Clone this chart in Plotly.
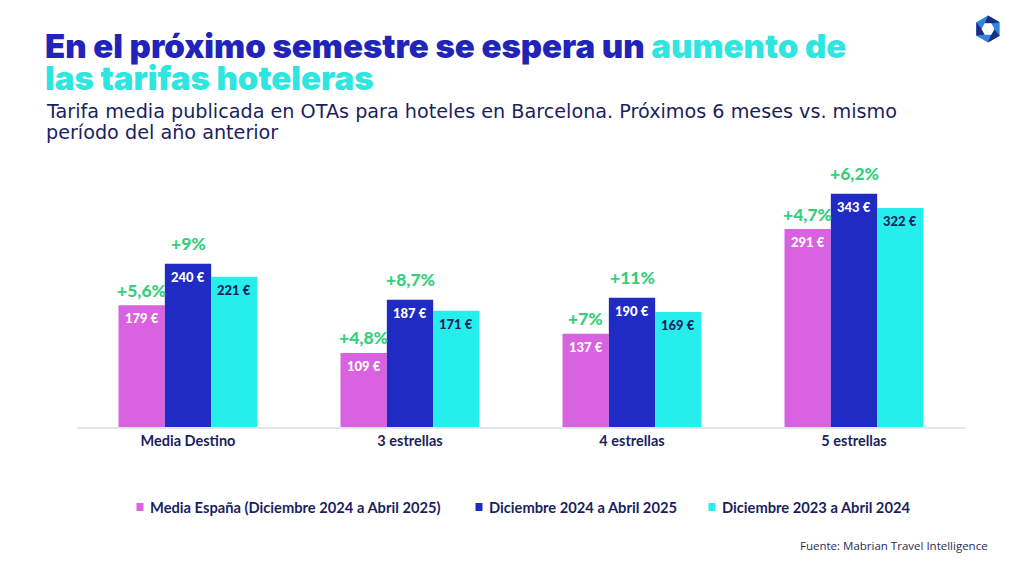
import plotly.graph_objects as go
import math

categories = ["Media Destino", "3 estrellas", "4 estrellas", "5 estrellas"]
media_espana = [179, 109, 137, 291]
dic_2024_2025 = [240, 187, 190, 343]
dic_2023_2024 = [221, 171, 169, 322]
pct_espana = ["+5,6%", "+4,8%", "+7%", "+4,7%"]
pct_2024_2025 = ["+9%", "+8,7%", "+11%", "+6,2%"]
series_names = ["Media España (Diciembre 2024 a Abril 2025)",
                "Diciembre 2024 a Abril 2025",
                "Diciembre 2023 a Abril 2024"]

PINK = "#d962e0"
BLUE = "#1f2bc3"
CYAN = "#25eeec"
NAVY = "#1b1f5e"
GREEN = "#35cf7e"
TITLE_BLUE = "#2124b8"
TITLE_CYAN = "#2ee6df"

W, H = 1024, 576
L, R, T, B = 77, 59, 155, 149
PW, PH = W - L - R, H - T - B


def px(x):
    return (x - L) / PW


def py(y):
    return (H - B - y) / PH


fig = go.Figure()
series = [media_espana, dic_2024_2025, dic_2023_2024]
colors = [PINK, BLUE, CYAN]
for name, vals, col in zip(series_names, series, colors):
    fig.add_trace(go.Bar(x=categories, y=vals, name=name, marker_color=col,
                         marker_line_width=0, showlegend=False, hoverinfo="skip"))

bar_px = 222 * (1 - 0.374) / 3
annotations = []
label_colors = ["white", "white", NAVY]
for si, vals in enumerate(series):
    for c, v in zip(categories, vals):
        annotations.append(dict(x=c, y=v, xref="x", yref="y", text=f"{v} €",
                                showarrow=False, xshift=(si - 1) * bar_px, yshift=-13,
                                yanchor="middle",
                                font=dict(family="Lato", size=13, color=label_colors[si], weight=900)))
for si, (vals, pcts, ys) in enumerate([(media_espana, pct_espana, 15), (dic_2024_2025, pct_2024_2025, 20)]):
    for c, v, p in zip(categories, vals, pcts):
        annotations.append(dict(x=c, y=v, xref="x", yref="y", text=p,
                                showarrow=False, xshift=(si - 1) * bar_px, yshift=ys,
                                yanchor="middle",
                                font=dict(family="Lato", size=17.5, color=GREEN, weight=900)))

# Title
annotations.append(dict(x=px(43), y=py(46), xref="paper", yref="paper", xanchor="left", yanchor="middle",
                        showarrow=False,
                        text=f"En el próximo semestre se espera un <span style='color:{TITLE_CYAN}'>aumento de</span>",
                        font=dict(family="Inter", size=33, color=TITLE_BLUE, weight=900)))
annotations.append(dict(x=px(43), y=py(78), xref="paper", yref="paper", xanchor="left", yanchor="middle",
                        showarrow=False, text="las tarifas hoteleras",
                        font=dict(family="Inter", size=33, color=TITLE_CYAN, weight=900)))
# Subtitle
annotations.append(dict(x=px(44), y=py(112), xref="paper", yref="paper", xanchor="left", yanchor="middle",
                        showarrow=False,
                        text="Tarifa media publicada en OTAs para hoteles en Barcelona. Próximos 6 meses vs. mismo",
                        font=dict(family="DejaVu Sans", size=19.2, color=NAVY)))
annotations.append(dict(x=px(44), y=py(132), xref="paper", yref="paper", xanchor="left", yanchor="middle",
                        showarrow=False, text="período del año anterior",
                        font=dict(family="DejaVu Sans", size=19.2, color=NAVY)))
# Legend
legend_x = [140, 479, 712]
shapes = []
for lx, name, col in zip(legend_x, series_names, colors):
    shapes.append(dict(type="rect", xref="paper", yref="paper",
                       x0=px(lx - 3.5), x1=px(lx + 3.5), y0=py(511), y1=py(503),
                       fillcolor=col, line=dict(width=0)))
    annotations.append(dict(x=px(lx + 8), y=py(507), xref="paper", yref="paper", xanchor="left",
                            yanchor="middle", showarrow=False, text=name,
                            font=dict(family="Lato", size=14.7, color=NAVY, weight=700)))
# Source
annotations.append(dict(x=px(990), y=py(545), xref="paper", yref="paper", xanchor="right", yanchor="middle",
                        showarrow=False, text="Fuente: Mabrian Travel Intelligence",
                        font=dict(family="Open Sans", size=11.5, color="#2a2d55")))

# Logo (hexagon)
cx, cy, r_out, r_in = 988, 29, 13.5, 6.5


def hexpath(r, rot=90):
    pts = []
    for k in range(6):
        a = math.radians(rot + 60 * k)
        pts.append((px(cx + r * math.cos(a)), py(cy - r * math.sin(a))))
    return "M " + " L ".join(f"{x},{y}" for x, y in pts) + " Z"


shapes.append(dict(type="path", xref="paper", yref="paper", path=hexpath(r_out),
                   fillcolor="#2f86dc", line=dict(width=0)))
for k0 in [1, 3, 5]:
    a1 = math.radians(90 + 60 * k0)
    a2 = math.radians(90 + 60 * (k0 + 1))
    pts = [(cx + r_out * math.cos(a1), cy - r_out * math.sin(a1)),
           (cx + r_out * math.cos(a2), cy - r_out * math.sin(a2)),
           (cx + r_in * math.cos(a2 + 0.5), cy - r_in * math.sin(a2 + 0.5)),
           (cx + r_in * math.cos(a1 + 0.5), cy - r_in * math.sin(a1 + 0.5))]
    path = "M " + " L ".join(f"{px(x)},{py(y)}" for x, y in pts) + " Z"
    shapes.append(dict(type="path", xref="paper", yref="paper", path=path,
                       fillcolor="#1d2a86", line=dict(width=0)))
shapes.append(dict(type="path", xref="paper", yref="paper", path=hexpath(r_in, rot=120),
                   fillcolor="white", line=dict(width=0)))

fig.update_layout(
    width=W, height=H,
    margin=dict(l=L, r=R, t=T, b=B),
    paper_bgcolor="white", plot_bgcolor="white",
    barmode="group", bargap=0.374, bargroupgap=0,
    xaxis=dict(showline=True, linecolor="#e4e4ea", linewidth=2, showgrid=False, ticks="",
               tickfont=dict(family="Lato", size=14.5, color=NAVY, weight=700), fixedrange=True),
    yaxis=dict(range=[0, 400], visible=False, fixedrange=True),
    annotations=annotations, shapes=shapes,
    showlegend=False,
)
fig.write_html("out.html", config={"displayModeBar": False})
